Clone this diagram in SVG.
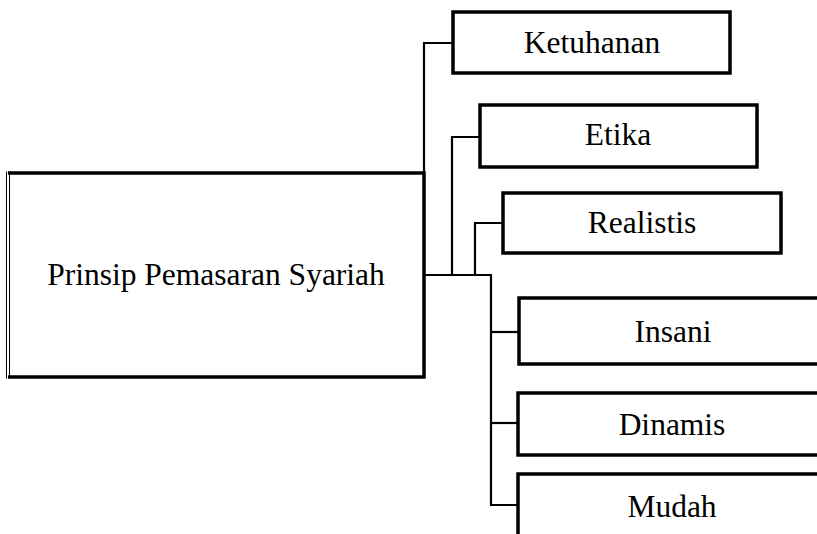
<svg xmlns="http://www.w3.org/2000/svg" width="817" height="534" viewBox="0 0 817 534">
  <style>
    .box { fill: #fff; stroke: #000; stroke-width: 3.5; }
    .wire { fill: none; stroke: #000; stroke-width: 2.2; }
    .lbl { font-family: "Liberation Serif", "Times New Roman", serif; font-size: 31.5px; fill: #000; text-anchor: middle; }
  </style>

  <!-- connectors: trunk from the main box, branching to each principle -->
  <g id="connectors">
    <polyline class="wire" points="453,43 424,43 424,377"/>
    <polyline class="wire" points="424,275 491,275 491,505 518,505"/>
    <polyline class="wire" points="480,137 452,137 452,275"/>
    <polyline class="wire" points="503,223 475,223 475,275"/>
    <line class="wire" x1="491" y1="332" x2="519" y2="332"/>
    <line class="wire" x1="491" y1="423" x2="518" y2="423"/>
  </g>

  <!-- main node: thick top/right/bottom, thin double rule on the left -->
  <g id="node-main">
    <rect x="8" y="173" width="416" height="204" fill="#fff"/>
    <polyline fill="none" stroke="#000" stroke-width="3.5" points="8,173 424,173 424,377 8,377"/>
    <line x1="6.5" y1="171.5" x2="6.5" y2="378.5" stroke="#000" stroke-width="1"/>
    <line x1="9.5" y1="173" x2="9.5" y2="377" stroke="#000" stroke-width="1"/>
    <text class="lbl" x="216" y="285">Prinsip Pemasaran Syariah</text>
  </g>

  <g id="node-ketuhanan">
    <rect class="box" x="453" y="12" width="277" height="61"/>
    <text class="lbl" x="592" y="53">Ketuhanan</text>
  </g>

  <g id="node-etika">
    <rect class="box" x="480" y="105" width="277" height="62"/>
    <text class="lbl" x="618" y="145">Etika</text>
  </g>

  <g id="node-realistis">
    <rect class="box" x="503" y="193" width="278" height="60"/>
    <text class="lbl" x="642" y="233">Realistis</text>
  </g>

  <g id="node-insani">
    <rect class="box" x="519" y="298" width="320" height="66"/>
    <text class="lbl" x="673" y="342">Insani</text>
  </g>

  <g id="node-dinamis">
    <rect class="box" x="518" y="393" width="320" height="62"/>
    <text class="lbl" x="672" y="435">Dinamis</text>
  </g>

  <g id="node-mudah">
    <rect class="box" x="518" y="474" width="320" height="80"/>
    <text class="lbl" x="672" y="517">Mudah</text>
  </g>
</svg>
